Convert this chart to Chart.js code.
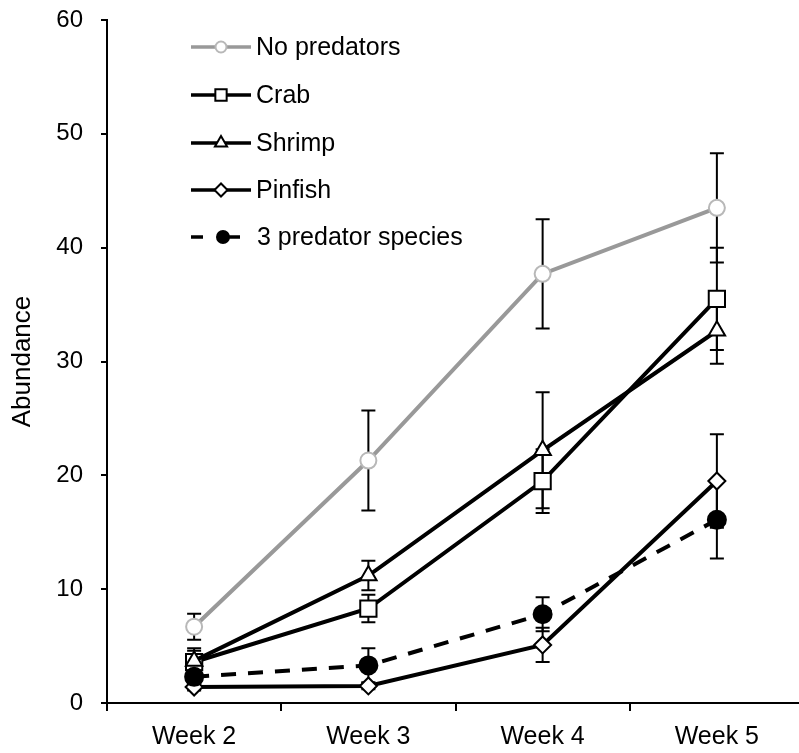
<!DOCTYPE html>
<html>
<head>
<meta charset="utf-8">
<script src="https://cdn.jsdelivr.net/npm/chart.js@4.4.1/dist/chart.umd.min.js"></script>
<style>
  html, body { margin: 0; padding: 0; background: #fff; overflow: hidden; }
  #wrap { width: 812px; height: 753px; }
</style>
</head>
<body>
<div id="wrap"><canvas id="c" width="812" height="753"></canvas></div>
<script>
// ---- data ----
const categories = ['Week 2', 'Week 3', 'Week 4', 'Week 5'];
const seriesNames = ['No predators', 'Crab', 'Shrimp', 'Pinfish', '3 predator species'];
const noPredators = [6.7, 21.3, 37.7, 43.5];
const noPredatorsErr = [1.15, 4.4, 4.8, 4.8];
const crab = [3.6, 8.3, 19.5, 35.5];
const crabErr = [1.2, 1.2, 2.8, 4.5];
const shrimp = [3.7, 11.2, 22.2, 32.7];
const shrimpErr = [0.9, 1.3, 5.1, 2.9];
const pinfish = [1.4, 1.5, 5.1, 19.5];
const pinfishErr = [0.3, 0.3, 1.5, 4.1];
const threePredators = [2.3, 3.3, 7.8, 16.1];
const threePredatorsErr = [0.5, 1.5, 1.5, 3.4];
const yTicks = [0, 10, 20, 30, 40, 50, 60];

const FONT = "'Liberation Sans', Arial, sans-serif";

const errorBars = {
  id: 'errorBars',
  beforeDatasetsDraw(chart) {
    const ctx = chart.ctx;
    const ys = chart.scales.y;
    ctx.save();
    ctx.strokeStyle = '#000';
    ctx.lineWidth = 2;
    chart.data.datasets.forEach((ds, i) => {
      const meta = chart.getDatasetMeta(i);
      meta.data.forEach((pt, j) => {
        const v = ds.data[j], e = ds.errors[j];
        const x = pt.x;
        const yTop = ys.getPixelForValue(v + e);
        const yBot = ys.getPixelForValue(v - e);
        ctx.beginPath();
        ctx.moveTo(x, yTop); ctx.lineTo(x, yBot);
        ctx.moveTo(x - 7, yTop); ctx.lineTo(x + 7, yTop);
        ctx.moveTo(x - 7, yBot); ctx.lineTo(x + 7, yBot);
        ctx.stroke();
      });
    });
    ctx.restore();
  }
};

const legendRadii = [5.5, 8, 7, 6.5, 6];
const customLegend = {
  id: 'customLegend',
  afterDraw(chart) {
    const ctx = chart.ctx;
    const rowY = [47, 95, 143, 190, 237];
    ctx.save();
    chart.data.datasets.forEach((ds, i) => {
      const y = rowY[i];
      const dashed = ds.borderDash && ds.borderDash.length;
      ctx.strokeStyle = ds.borderColor;
      ctx.lineWidth = 3.5;
      ctx.beginPath();
      if (dashed) {
        ctx.moveTo(191, y); ctx.lineTo(203, y);
        ctx.moveTo(229, y); ctx.lineTo(240, y);
      } else {
        ctx.moveTo(191, y); ctx.lineTo(251, y);
      }
      ctx.stroke();
      ctx.fillStyle = ds.pointBackgroundColor;
      ctx.strokeStyle = ds.pointBorderColor;
      ctx.lineWidth = 2;
      Chart.helpers.drawPoint(ctx, {
        pointStyle: ds.pointStyle, radius: legendRadii[i], rotation: 0, borderWidth: 2
      }, dashed ? 223 : 221, y);
      ctx.fillStyle = '#000';
      ctx.font = '25px ' + FONT;
      ctx.textBaseline = 'middle';
      ctx.textAlign = 'left';
      ctx.fillText(ds.label, dashed ? 257 : 256, y + 1);
    });
    ctx.restore();
  }
};

function mk(label, data, errors, opts) {
  return Object.assign({
    label, data, errors,
    borderColor: '#000', borderWidth: 4,
    pointBackgroundColor: '#fff', pointBorderColor: '#000', pointBorderWidth: 2,
    tension: 0, fill: false
  }, opts);
}

new Chart(document.getElementById('c'), {
  type: 'line',
  data: {
    labels: categories,
    datasets: [
      mk(seriesNames[0], noPredators, noPredatorsErr, {
        borderColor: '#999999', pointStyle: 'circle', pointRadius: 8,
        pointBorderColor: '#b8b8b8', order: 5
      }),
      mk(seriesNames[1], crab, crabErr, { pointStyle: 'rect', pointRadius: 11.5, order: 4 }),
      mk(seriesNames[2], shrimp, shrimpErr, { pointStyle: 'triangle', pointRadius: 9.5, order: 3 }),
      mk(seriesNames[3], pinfish, pinfishErr, { pointStyle: 'rectRot', pointRadius: 8.5, order: 2 }),
      mk(seriesNames[4], threePredators, threePredatorsErr, {
        pointStyle: 'circle', pointRadius: 9, pointBackgroundColor: '#000',
        borderDash: [15, 12], order: 1
      })
    ]
  },
  options: {
    responsive: false,
    devicePixelRatio: 1,
    animation: false,
    layout: { autoPadding: false, padding: { left: 0, top: 20, right: 8, bottom: 0 } },
    plugins: { legend: { display: false }, tooltip: { enabled: false } },
    scales: {
      x: {
        type: 'category',
        offset: true,
        grid: { display: true, drawOnChartArea: false, drawTicks: true, tickLength: 8, offset: true, color: '#000', lineWidth: 2 },
        border: { display: true, color: '#000', width: 2 },
        ticks: { color: '#000', font: { family: FONT, size: 25 }, padding: 11, maxRotation: 0 },
        afterFit(s) { s.height = 50; s.paddingLeft = 0; s.paddingRight = 0; }
      },
      y: {
        min: 0, max: 60,
        afterBuildTicks(s) { s.ticks = yTicks.map(v => ({ value: v })); },
        grid: { display: true, drawOnChartArea: false, drawTicks: true, tickLength: 6, color: '#000', lineWidth: 2 },
        border: { display: true, color: '#000', width: 2 },
        ticks: { color: '#000', font: { family: FONT, size: 24 }, padding: 18 },
        title: { display: true, text: 'Abundance', color: '#000', font: { family: FONT, size: 26 }, padding: { top: 7, bottom: 0 } },
        afterFit(s) { s.width = 107; s.paddingTop = 0; s.paddingBottom = 0; }
      }
    }
  },
  plugins: [errorBars, customLegend]
});
</script>
</body>
</html>
